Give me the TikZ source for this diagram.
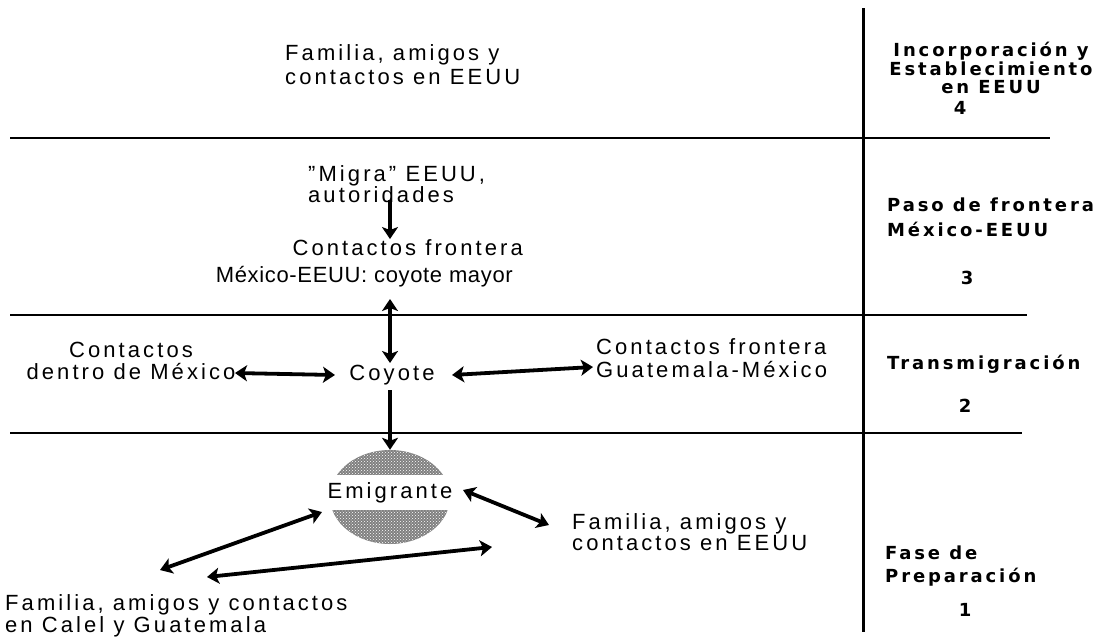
\documentclass[tikz,border=0pt]{standalone}
\usepackage{fontspec}
\setmainfont[LetterSpace=14]{Liberation Sans}
\newfontfamily\condfont[LetterSpace=3]{Liberation Sans}
\newfontfamily\boldlab[LetterSpace=16]{DejaVu Sans}
\usetikzlibrary{arrows.meta,patterns,shapes.geometric}
\begin{document}
\begin{tikzpicture}[x=1pt,y=-1pt,
  txt/.style={font=\fontsize{22}{23}\selectfont, inner sep=0pt},
  lab/.style={font=\boldlab\bfseries\fontsize{18}{18.5}\selectfont, inner sep=0pt},
  rule/.style={line width=1.4pt},
  tipx/.tip={Stealth[length=12pt,width=16pt,inset=3pt]},
  dbl/.style={line width=3.8pt, tipx-tipx},
  sgl/.style={line width=3.8pt, -tipx}]
\useasboundingbox (0,0) rectangle (1110,637);

% phase separators
\draw[line width=3pt] (863,8) -- (863,632);
\draw[rule] (10,138) -- (1050,138);
\draw[rule] (10,315) -- (1027,315);
\draw[rule] (10,433) -- (1022,433);

% phase labels
\node[lab,align=center] (l4) at (991,68) {Incorporación y\\Establecimiento\\en EEUU};
\node[lab] (n4) at (960,108) {4};
\node[lab,align=left,anchor=west,font=\boldlab\bfseries\fontsize{18}{25}\selectfont] (l3) at (887,217) {Paso de frontera\\México-EEUU};
\node[lab] (n3) at (967,278) {3};
\node[lab,anchor=west] (l2) at (887,364) {Transmigración};
\node[lab] (n2) at (965,406) {2};
\node[lab,align=left,anchor=west,font=\boldlab\bfseries\fontsize{18}{23}\selectfont] (l1) at (885,566) {Fase de\\Preparación};
\node[lab] (n1) at (965,610) {1};

% texts
\node[txt,align=left,anchor=west,font=\fontsize{22}{24}\selectfont] (famtop) at (285,65) {Familia, amigos y\\contactos en EEUU};
\node[txt,align=left,anchor=west,font=\fontsize{22}{19}\selectfont] (migra) at (308,184) {"Migra" EEUU,\\autoridades};
\node[txt,align=right,anchor=east,font=\fontsize{22}{27}\selectfont] (front) at (523,263) {Contactos frontera\\{\condfont México-EEUU: coyote mayor}\hspace*{10pt}};
\node[txt] (coy) at (392,375) {Coyote};
\node[txt,align=center,font=\fontsize{22}{22}\selectfont] (dentro) at (131,361) {Contactos\\dentro de México};
\node[txt,align=left,anchor=west] (guat) at (596,358) {Contactos frontera\\Guatemala-México};
\node[txt,align=left,anchor=west,font=\fontsize{22}{21.5}\selectfont] (famus) at (572,532) {Familia, amigos y\\contactos en EEUU};
\node[txt,align=left,anchor=west,font=\fontsize{22}{22}\selectfont] (famgt) at (5,616) {Familia, amigos y contactos\\en Calel y Guatemala};

% emigrante disc
\node[ellipse, minimum width=120pt, minimum height=94pt, fill=black!50, inner sep=0pt] (disc) at (390,497) {};
\fill[pattern=crosshatch dots, pattern color=white] (390,497) ellipse [x radius=60, y radius=47];
\node[txt, fill=white, minimum width=140pt, minimum height=35pt] (emi) at (390,492.5) {Emigrante};

% connectors
\coordinate (m1) at (390,200);
\draw[sgl] (m1) -- (m1 |- front.north);
\coordinate (f1) at (390,299);
\coordinate (f2) at (390,363);
\draw[dbl] (f1) -- (f2);
\coordinate (d1) at (235,373);
\coordinate (d2) at (335,375);
\draw[dbl] (d1) -- (d2);
\coordinate (g1) at (452,375);
\coordinate (g2) at (593,367);
\draw[dbl] (g1) -- (g2);
\coordinate (e0) at (390,390);
\draw[sgl] (e0) -- (disc.north);
\coordinate (r1) at (463,490);
\coordinate (r2) at (549,525);
\draw[dbl] (r1) -- (r2);
\coordinate (k1) at (322,512);
\coordinate (k2) at (160,570);
\draw[dbl] (k1) -- (k2);
\coordinate (b1) at (207,577);
\coordinate (b2) at (492,547);
\draw[dbl] (b1) -- (b2);
\end{tikzpicture}
\end{document}
